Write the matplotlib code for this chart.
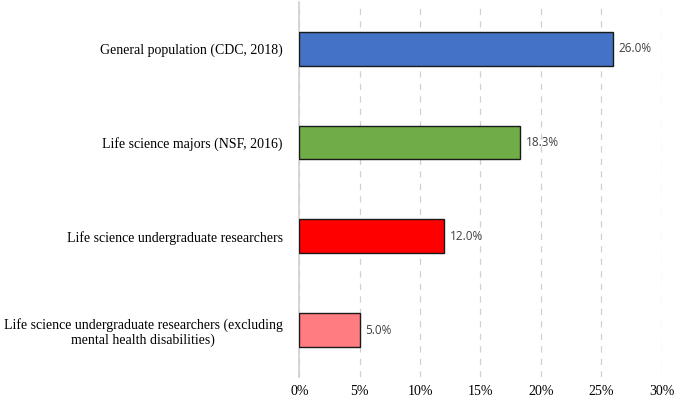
import matplotlib.pyplot as plt

# data
categories = ["General population (CDC, 2018)",
              "Life science majors (NSF, 2016)",
              "Life science undergraduate researchers",
              "Life science undergraduate researchers (excluding\nmental health disabilities)"]
values = [26.0, 18.3, 12.0, 5.0]
colors = ["#4472C4", "#70AD47", "#FF0000", "#FF7C80"]
ticks = [0, 5, 10, 15, 20, 25, 30]

fig = plt.figure(figsize=(6.75, 3.98), dpi=100)
ax = fig.add_axes([0.4437, 0.053, 0.5363, 0.942])

pos = range(len(categories))
ax.barh(pos, values, height=0.36, color=colors, edgecolor="#1a1a1a", linewidth=1, zorder=3)

for p, v in zip(pos, values):
    ax.text(v + 0.45, p, "%.1f%%" % v, va="center", ha="left",
            fontsize=8.5, family="Open Sans", color="#404040")

ax.set_xlim(0, 30)
ax.set_ylim(3.5, -0.5)
ax.set_xticks(ticks)
ax.set_xticklabels(["%d%%" % t for t in ticks], family="Liberation Serif", fontsize=10)
ax.set_yticks(list(pos))
ax.set_yticklabels(categories, family="Liberation Serif", fontsize=10, ha="right",
                   multialignment="center")
ax.tick_params(axis="y", length=0, pad=12)
ax.tick_params(axis="x", length=0, pad=6)

ax.xaxis.grid(True, linestyle=(0, (5, 5)), color="#d0d0d0", linewidth=0.9, zorder=0)
for s in ["top", "right", "bottom"]:
    ax.spines[s].set_visible(False)
ax.spines["left"].set_color("#d0d0d0")
ax.spines["left"].set_linewidth(1.2)

fig.savefig("out.png", dpi=100)
